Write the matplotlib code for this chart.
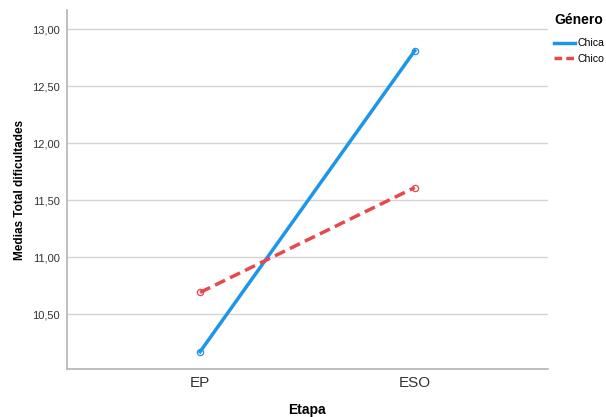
import matplotlib.pyplot as plt
from matplotlib.lines import Line2D

plt.rcParams['font.family'] = ['Liberation Sans', 'DejaVu Sans']

etapas = ["EP", "ESO"]
chica = [10.17, 12.81]
chico = [10.69, 11.61]
yticks = [10.5, 11.0, 11.5, 12.0, 12.5, 13.0]

blue = "#1e96e8"
red = "#e8474c"

fig = plt.figure(figsize=(6.06, 4.17), dpi=100)
ax = fig.add_axes([0.1106, 0.115, 0.7934, 0.861])

x = range(len(etapas))
ax.plot(x, chica, color=blue, lw=2.5, marker="o", ms=4.5, mfc="none", mec=blue, mew=0.9, zorder=3)
ax.plot(x, chico, color=red, lw=2.5, ls=(0, (3.2, 1.6)), marker="o", ms=4.5, mfc="none", mec=red, mew=0.9, zorder=3)

ax.set_xlim(-0.62, 1.62)
ax.set_ylim(10.018, 13.167)
ax.set_xticks(list(x))
ax.set_xticklabels(etapas, fontsize=11, color="#333333")
ax.set_yticks(yticks)
ax.set_yticklabels([f"{v:.2f}".replace(".", ",") for v in yticks], fontsize=8, color="#333333")
ax.tick_params(length=0)
ax.tick_params(axis="x", pad=5)
ax.tick_params(axis="y", pad=5)
ax.grid(axis="y", color="#d4d4d4", lw=1)
ax.set_axisbelow(True)
for s in ["top", "right"]:
    ax.spines[s].set_visible(False)
for s in ["left", "bottom"]:
    ax.spines[s].set_color("#b4b4b4")
    ax.spines[s].set_linewidth(1.2)

ax.set_xlabel("Etapa", fontsize=10, fontweight="bold", va="center")
ax.xaxis.set_label_coords(0.5, -0.114)
ax.set_ylabel("Medias Total dificultades", fontsize=8.5, fontweight="bold", va="center")
ax.yaxis.set_label_coords(-0.098, 0.5)

# legend, outside top right
fig.text(0.914, 0.952, "Género", fontsize=10, fontweight="bold", va="center", ha="left")
handles = [Line2D([], [], color=blue, lw=2.5),
           Line2D([], [], color=red, lw=2.5, ls=(0, (2.2, 1.2)))]
fig.legend(handles, ["Chica", "Chico"], loc="upper left",
           bbox_to_anchor=(0.914, 0.908), frameon=False, fontsize=7.6,
           handlelength=2.0, handletextpad=0.2, labelspacing=0.5, borderaxespad=0,
           borderpad=0)

fig.savefig("out.png", dpi=100)
